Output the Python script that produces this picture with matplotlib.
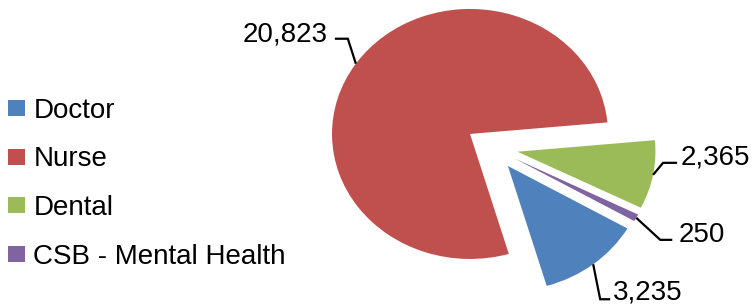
import matplotlib
matplotlib.use("Agg")
import matplotlib.pyplot as plt
import numpy as np

# ---- data ----
categories = ["Doctor", "Nurse", "Dental", "CSB - Mental Health"]
values = [3235, 20823, 2365, 250]
colors = ["#4F81BD", "#C0504D", "#9BBB59", "#8064A2"]

# ---- layout (pixels, y downward) for leader lines: elbow, end, text anchor ----
leader_layout = {
    "Doctor": dict(elbow=(7, 35), end=(17, 35), text=(20, 35.5), ha="left"),
    "Nurse": dict(elbow=(-8, -25), end=(-21, -25), text=(-28, -22), ha="right"),
    "Dental": dict(elbow=(10, -12), end=(24, -12), text=(28, -10), ha="left"),
    "CSB - Mental Health": dict(elbow=(24, 22), end=(36, 22), text=(42, 24), ha="left"),
}

plt.rcParams["font.family"] = ["Liberation Sans", "DejaVu Sans"]

W, H = 754, 305
fig = plt.figure(figsize=(W / 100, H / 100), dpi=100)
ax = fig.add_axes([0, 0, 1, 1])

explode_frac = 0.19
wedges, _ = ax.pie(values, colors=colors, startangle=-30, counterclock=False,
                   explode=[explode_frac] * len(values), radius=1, center=(0, 0),
                   wedgeprops=dict(linewidth=0))

# slightly elliptical pie as in the reference
cx, cy = 491.7, 147.3      # pie centre in pixels (from top-left)
rx, ry = 138.0, 125.0      # radii in pixels
ax.set_aspect("auto")
ax.set_xlim(-cx / rx, (W - cx) / rx)
ax.set_ylim(-(H - cy) / ry, cy / ry)
ax.axis("off")

to_disp = ax.transData
to_data = ax.transData.inverted()

for w, cat, v in zip(wedges, categories, values):
    m = np.deg2rad((w.theta1 + w.theta2) / 2)
    ex, ey = (1 + explode_frac) * np.cos(m), (1 + explode_frac) * np.sin(m)
    px, py = to_disp.transform((ex, ey))
    lay = leader_layout[cat]
    pts = [(px, py),
           (px + lay["elbow"][0], py - lay["elbow"][1]),
           (px + lay["end"][0], py - lay["end"][1])]
    dpts = to_data.transform(pts)
    ax.plot(dpts[:, 0], dpts[:, 1], color="black", lw=1.6,
            solid_joinstyle="miter", solid_capstyle="butt", clip_on=False)
    tx, ty = to_data.transform((px + lay["text"][0], py - lay["text"][1]))
    ax.text(tx, ty, f"{v:,}", ha=lay["ha"], va="baseline", fontsize=20,
            color="black")

fig.legend(wedges, categories, loc="upper left", bbox_to_anchor=(8 / W, 1 - 98 / H),
           frameon=False, fontsize=20, handlelength=0.61, handleheight=0.52,
           handletextpad=0.3, labelspacing=0.81, borderpad=0, borderaxespad=0)

fig.savefig("out.png", dpi=100)
